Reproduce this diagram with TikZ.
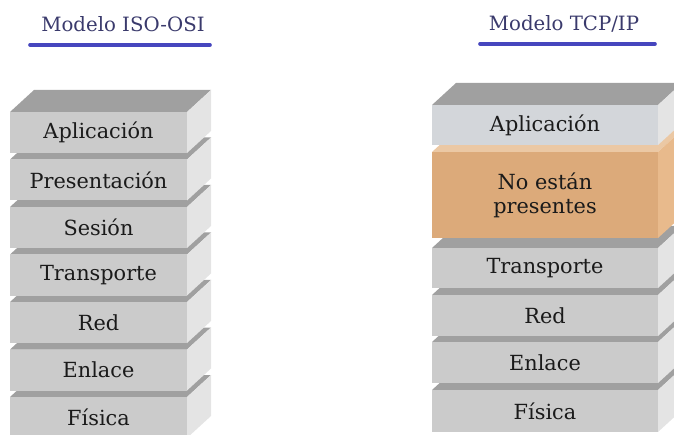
\documentclass[tikz,border=0pt]{standalone}
\usepackage{fontspec}
\setmainfont{DejaVu Serif}
\definecolor{grayfront}{HTML}{CBCBCB}
\definecolor{grayfrontb}{HTML}{D3D6DA}
\definecolor{grayside}{HTML}{E4E4E4}
\definecolor{graytop}{HTML}{A0A0A0}
\definecolor{orfront}{HTML}{DCAA7A}
\definecolor{orside}{HTML}{E8BA8C}
\definecolor{ortop}{HTML}{EBC8A4}
\definecolor{hdrtext}{HTML}{3A3A6C}
\definecolor{hdrline}{HTML}{4646BE}
\definecolor{lbltext}{HTML}{1A1A1A}
\newcommand\mylayer[9]{%
  \fill[#8] (#2,#3) -- (#2+24,#3-22) -- (#2+#4+24,#3-22) -- (#2+#4,#3) -- cycle;
  \fill[#7] (#2+#4,#3) -- (#2+#4+24,#3-22) -- (#2+#4+24,#3+#5-22) -- (#2+#4,#3+#5) -- cycle;
  \node[layerfront, fill=#6, minimum width=#4bp, minimum height=#5bp] (#1) at (#2,#3) {#9};
}
\begin{document}
\begin{tikzpicture}[x=1bp,y=-1bp,
  layerfront/.style={anchor=north west, inner sep=0pt, outer sep=0pt, text=lbltext,
    font=\fontsize{20.9}{24}\selectfont, align=center},
  hdr/.style={text=hdrtext, font=\fontsize{19.8}{22}\selectfont, inner sep=0pt},
  uline/.style={draw=hdrline, line width=3.6bp, line cap=round}]
\useasboundingbox (0,0) rectangle (674,435);
\clip (0,0) rectangle (674,435);
% headers
\node[hdr] (h1) at (123,24) {Modelo ISO-OSI};
\node[hdr] (h2) at (564,24) {Modelo TCP/IP};
\draw[uline] (30,45) -- (210,45);
\draw[uline] (480,44) -- (655,44);
% ISO-OSI stack (bottom to top)
\mylayer{o7}{10}{397}{177}{41}{grayfront}{grayside}{graytop}{Física}
\mylayer{o6}{10}{349.5}{177}{41}{grayfront}{grayside}{graytop}{Enlace}
\mylayer{o5}{10}{302}{177}{41}{grayfront}{grayside}{graytop}{Red}
\mylayer{o4}{10}{254.5}{177}{41}{grayfront}{grayside}{graytop}{Transporte}
\mylayer{o3}{10}{207}{177}{41}{grayfront}{grayside}{graytop}{Sesión}
\mylayer{o2}{10}{159.5}{177}{41}{grayfront}{grayside}{graytop}{Presentación}
\mylayer{o1}{10}{112}{177}{41}{grayfront}{grayside}{graytop}{Aplicación}
% TCP/IP stack
\mylayer{t6}{432}{390}{226}{42}{grayfront}{grayside}{graytop}{Física}
\mylayer{t5}{432}{342}{226}{41}{grayfront}{grayside}{graytop}{Enlace}
\mylayer{t4}{432}{295}{226}{41}{grayfront}{grayside}{graytop}{Red}
\mylayer{t3}{432}{248}{226}{40}{grayfront}{grayside}{graytop}{Transporte}
\mylayer{t2}{432}{152}{226}{86}{orfront}{orside}{ortop}{No están\\presentes}
\mylayer{t1}{432}{105}{226}{40}{grayfrontb}{grayside}{graytop}{Aplicación}
\end{tikzpicture}
\end{document}
